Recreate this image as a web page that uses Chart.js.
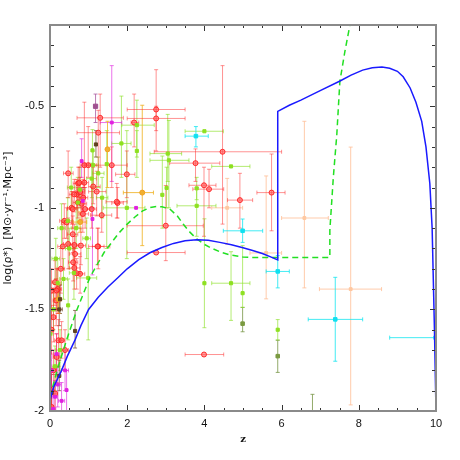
<!DOCTYPE html>
<html>
<head>
<meta charset="utf-8">
<script src="https://cdn.jsdelivr.net/npm/chart.js@4.4.0/dist/chart.umd.min.js"></script>
<style>
  html, body { margin: 0; padding: 0; background: #fff; }
  #wrap { width: 460px; height: 460px; }
</style>
</head>
<body>
<div id="wrap"><canvas id="chSfr" width="460" height="460"></canvas></div>
<script>
// each point: [z, logRho, zLo, zHi, yLo, yHi]  (null = no error bar)
const redPts = [
  [2.75, -0.516, 2.0, 3.5, -0.72, -0.32], [2.75, -0.56, 2.0, 3.5, -0.62, -0.5],
  [1.30, -0.557, 0.7, 1.9, -0.8, -0.44], [1.25, -0.63, 0.7, 1.8, -0.83, -0.52],
  [2.18, -0.58, 2.1, 2.3, -0.70, -0.44], [1.6, -0.79, 0.9, 2.0, -0.9, -0.7],
  [0.99, -0.79, 0.85, 1.2, -0.85, -0.6], [0.47, -0.83, 0.35, 0.6, -0.95, -0.72],
  [1.99, -0.835, 1.7, 2.2, -0.95, -0.72], [3.77, -0.78, 3.1, 4.4, -0.87, -0.71],
  [4.47, -0.724, 2.7, 6.0, -1.08, -0.3], [3.99, -0.889, 3.6, 4.3, -1.14, -0.8],
  [4.12, -0.908, 3.7, 4.5, -1.0, -0.81], [1.75, -0.976, 1.6, 1.9, -1.05, -0.9],
  [3.0, -1.088, 2.0, 3.97, -1.26, -0.89], [2.75, -1.22, 2.0, 3.5, null, null],
  [3.99, -1.722, 3.5, 4.5, null, null], [4.92, -0.962, 4.6, 5.25, -1.1, -0.83],
  [5.74, -0.925, 5.36, 6.09, -1.113, -0.735],
  [0.73, -0.88, 0.6, 0.9, -0.95, -0.8], [0.82, -0.98, 0.7, 0.95, -1.06, -0.9],
  [0.85, -1.03, 0.75, 1.0, -1.12, -0.95], [0.69, -0.934, 0.55, 0.85, -1.0, -0.86],
  [1.21, -0.92, 1.0, 1.45, -1.04, -0.82], [0.89, -0.79, 0.78, 1.0, -0.9, -0.48],
  [0.56, -1.0, 0.45, 0.7, -1.08, -0.92], [0.37, -1.064, 0.25, 0.5, -1.15, -0.98],
  [1.73, -0.97, 1.45, 2.0, -1.05, -0.88], [1.25, -1.19, 1.1, 1.4, -1.3, -1.1],
  [1.34, -1.036, 1.05, 1.6, -1.12, -0.95], [1.12, -0.895, 1.0, 1.3, -0.98, -0.8],
  [1.08, -1.006, 0.95, 1.2, -1.1, -0.9], [0.59, -1.006, 0.45, 0.7, -1.1, -0.92],
  [0.72, -0.974, 0.6, 0.85, -1.05, -0.9], [0.91, -1.006, 0.8, 1.05, -1.1, -0.9],
  [0.43, -1.072, 0.3, 0.55, -1.15, -1.0], [0.47, -1.178, 0.35, 0.6, -1.3, -1.05],
  [0.63, -1.183, 0.5, 0.75, -1.28, -1.08], [0.80, -1.186, 0.7, 0.92, -1.28, -1.1],
  [0.65, -1.227, 0.5, 0.8, -1.32, -1.14], [0.60, -1.268, 0.48, 0.72, -1.36, -1.18],
  [0.63, -1.296, 0.5, 0.78, -1.4, -1.2], [0.78, -1.325, 0.68, 0.9, -1.42, -1.24],
  [0.13, -1.366, 0.05, 0.22, -1.48, -1.26], [0.2, -1.4, 0.1, 0.3, -1.52, -1.3],
  [0.04, -1.407, 0, 0.1, -1.55, -1.3], [0.76, -0.876, 0.65, 0.88, -0.96, -0.8],
  [0.89, -0.876, 0.8, 1.0, -0.95, -0.78], [0.78, -0.922, 0.66, 0.9, -1.0, -0.85],
  [0.86, -0.95, 0.75, 0.98, -1.04, -0.86], [0.63, -0.934, 0.5, 0.75, -1.02, -0.86],
  [0.59, -1.13, 0.45, 0.72, -1.22, -1.04], [1.23, -1.19, 1.0, 1.55, -1.28, -1.1],
  [0.28, -1.3, 0.18, 0.38, -1.42, -1.2], [0.16, -1.456, 0.08, 0.25, -1.58, -1.35],
  [0.09, -1.538, 0.02, 0.16, -1.66, -1.42], [0.22, -1.652, 0.12, 0.32, -1.78, -1.55],
  [0.17, -1.734, 0.08, 0.26, -1.86, -1.62], [0.09, -1.8, 0.02, 0.16, -1.92, -1.7],
  [0.04, -1.897, 0, 0.1, -2.0, -1.8], [0.04, -1.98, 0, 0.08, -2.05, -1.9],
  [0.04, -1.6, 0, 0.1, -1.72, -1.48], [0.13, -1.914, 0.05, 0.2, -2.02, -1.82],
  [0.3, -1.652, 0.22, 0.38, -1.74, -1.56], [0.39, -1.70, 0.3, 0.48, -1.8, -1.6],
  [0.17, -1.407, 0.08, 0.25, -1.5, -1.3], [0.69, -1.322, 0.6, 0.8, -1.4, -1.25],
  [0.33, -1.19, 0.2, 0.45, -1.3, -1.08]
];
const greenPts = [
  [2.25, -0.593, 1.86, 2.7, -0.75, -0.47], [1.85, -0.683, 1.6, 2.1, -0.85, -0.45],
  [2.25, -0.72, null, null, -0.85, -0.62], [3.05, -0.733, 2.59, 3.41, -0.87, -0.54],
  [4.0, -0.623, 3.5, 4.49, null, null], [2.91, -0.936, null, null, -1.1, -0.745],
  [1.99, -1.0, 1.38, 2.46, -1.25, -0.62], [3.8, -0.99, 3.29, 4.3, -1.14, -0.9],
  [3.08, -0.766, 2.59, 3.6, -1.0, -0.57], [3.02, -0.902, null, null, -1.0, -0.8],
  [4.69, -0.796, 4.19, 5.18, null, null], [3.8, -0.904, null, null, -0.96, -0.85],
  [4.0, -1.371, null, null, -1.59, -1.054], [4.69, -1.371, 4.19, 5.18, -1.554, -1.216],
  [4.99, -1.42, null, null, -1.49, -1.186], [5.9, -1.6, null, null, -1.65, -1.55],
  [0.99, -1.345, 0.69, 1.21, -1.65, -1.2],
  [1.1, -0.717, null, null, -1.0, -0.615], [1.08, -0.856, 0.95, 1.2, -0.95, -0.78],
  [0.46, -1.064, 0.35, 0.58, -1.2, -0.95], [0.72, -0.974, null, null, -1.1, -0.85],
  [0.62, -1.32, 0.5, 0.75, -1.45, -1.2], [0.2, -1.37, 0.1, 0.3, -1.5, -1.25],
  [0.78, -0.91, 0.7, 0.9, -1.0, -0.8], [1.12, -0.79, 1.0, 1.25, -0.9, -0.72],
  [1.47, -0.785, null, null, -1.2, -0.62], [1.25, -0.83, 1.1, 1.4, -0.9, -0.75],
  [0.47, -1.48, null, null, -1.65, -1.35], [0.26, -1.70, 0.15, 0.35, -1.8, -1.6],
  [0.13, -1.78, 0.05, 0.2, -1.9, -1.68], [0.0, -1.62, 0, 0.08, -1.75, -1.5],
  [0.09, -1.5, 0.02, 0.16, -1.6, -1.4], [0.5, -1.2, 0.4, 0.6, -1.3, -1.1],
  [0.3, -1.1, 0.2, 0.4, -1.2, -0.98], [0.55, -0.9, 0.45, 0.65, -1.0, -0.8],
  [0.15, -1.25, 0.05, 0.25, -1.35, -1.15], [0.35, -1.35, 0.25, 0.45, -1.45, -1.25],
  [0.68, -1.1, 0.55, 0.8, -1.2, -1.0], [1.35, -0.95, 1.2, 1.5, -1.05, -0.85],
  [0.95, -1.15, 0.85, 1.05, -1.25, -1.05]
];
const olivePts = [
  [4.99, -1.57, null, null, -1.61, -1.49], [5.9, -1.73, null, null, -1.81, -1.652],
  [6.8, -2.05, null, null, -2.1, -1.918]
];
const brownPts = [
  [1.19, -0.688, null, null, -0.75, -0.62], [0.24, -1.5, 0.15, 0.32, -1.58, -1.38],
  [0.65, -1.606, null, null, -1.69, -1.505], [0.24, -1.827, null, null, -1.9, -1.75],
  [0.04, -1.91, null, null, -2.0, -1.82], [0.26, -1.45, null, null, -1.52, -1.38]
];
const purplePts = [[1.18, -0.5, null, null, -0.58, -0.44]];
const magentaPts = [
  [1.6, -0.58, 1.3, 1.86, -0.87, -0.30], [1.1, -1.055, null, null, -1.33, -1.0],
  [2.23, -1.0, null, null, null, null], [0.85, -0.966, null, null, -1.02, -0.9],
  [0.82, -0.77, null, null, -0.85, -0.66], [0.39, -1.8, 0.3, 0.48, -1.9, -1.7],
  [0.2, -1.87, 0.12, 0.28, -1.98, -1.78], [0.13, -1.93, 0.05, 0.2, -2.05, -1.85],
  [0.3, -1.95, 0.22, 0.38, -2.05, -1.86], [0.04, -1.8, 0, 0.1, -1.9, -1.7],
  [0.43, -1.897, null, null, -2.0, -1.8], [0.17, -1.72, 0.1, 0.24, -1.82, -1.62],
  [0.08, -1.99, 0, 0.15, -2.08, -1.9]
];
const goldPts = [
  [2.39, -0.925, 1.9, 2.68, -1.186, -0.495], [1.49, -0.712, null, null, -0.9, -0.574],
  [0.78, -1.07, 0.6, 0.95, -1.12, -1.02], [0.22, -1.45, 0.12, 0.3, -1.52, -1.38]
];
const peachPts = [
  [6.59, -1.05, 6.0, 7.21, -1.394, -0.574], [7.79, -1.40, 6.98, 8.59, -1.97, -0.701],
  [4.59, -1.0, 4.19, 4.99, -1.18, -0.855], [5.6, -1.222, 5.18, 6.0, -1.448, -0.843]
];
const cyanPts = [
  [3.78, -0.647, 3.5, 4.1, -0.70, -0.60], [4.99, -1.113, 4.49, 5.51, -1.17, -1.055],
  [5.9, -1.313, 5.6, 6.2, -1.394, -1.235], [7.39, -1.549, 6.69, 8.1, -1.755, -1.342],
  [9.99, -1.639, 8.8, 10, null, null]
];

// model curves (solid blue, dashed green)
const blueZ = [0, 0.05, 0.1, 0.2, 0.3, 0.45, 0.65, 0.8, 1.0, 1.25, 1.5, 1.75, 2.0, 2.3, 2.6, 2.9,
  3.2, 3.5, 3.8, 4.1, 4.4, 4.7, 5.0, 5.25, 5.5, 5.7, 5.9,
  5.9, 6.2, 6.5, 7.0, 7.5, 7.8, 8.1, 8.35, 8.6, 8.8, 9.0, 9.15, 9.33, 9.48, 9.63, 9.74, 9.84, 9.9, 9.96, 10];
const blueY = [-1.95, -1.91, -1.88, -1.84, -1.80, -1.73, -1.65, -1.58, -1.5, -1.44, -1.39, -1.345, -1.30, -1.255, -1.22, -1.195,
  -1.175, -1.162, -1.157, -1.16, -1.17, -1.182, -1.196, -1.21, -1.225, -1.24, -1.256,
  -0.525, -0.495, -0.47, -0.423, -0.377, -0.347, -0.322, -0.31, -0.307, -0.313, -0.328, -0.355, -0.41, -0.48, -0.574, -0.7, -0.88, -1.1, -1.6, -2];
const greenZ = [0, 0.1, 0.2, 0.43, 0.7, 1.04, 1.4, 1.77, 2.0, 2.2, 2.4, 2.6, 2.75, 2.9, 3.1, 3.3, 3.45, 3.6, 3.8,
  4.0, 4.2, 4.45, 4.66, 5.0, 5.2, 7.25, 7.25, 7.34, 7.43, 7.51, 7.64, 7.77];
const greenY = [-1.93, -1.86, -1.79, -1.65, -1.5, -1.34, -1.22, -1.127, -1.08, -1.045, -1.015, -0.998, -0.993, -0.995, -1.005, -1.04, -1.08, -1.115, -1.153,
  -1.18, -1.2, -1.22, -1.232, -1.242, -1.244, -1.244, -1.11, -0.85, -0.64, -0.377, -0.23, -0.1];

const xTicks = [0, 2, 4, 6, 8, 10];
const yTicks = [-2, -1.5, -1, -0.5];

function isMult(v, m) { return Math.abs(v / m - Math.round(v / m)) < 1e-6; }
function fmt(v) { return String(Number(v.toFixed(1))); }

function pointSet(pts, style, radius, fill, border, errColor) {
  return {
    type: 'scatter',
    data: pts.map(p => ({ x: p[0], y: p[1] })),
    errors: pts, errColor: errColor,
    pointStyle: style, pointRadius: radius, pointBorderWidth: 1,
    backgroundColor: fill, borderColor: border
  };
}
function curveSet(zs, ys, color, dash) {
  return {
    type: 'line',
    data: zs.map((z, i) => ({ x: z, y: ys[i] })),
    borderColor: color, borderWidth: 1.5, borderDash: dash,
    pointRadius: 0, fill: false, tension: 0
  };
}

/* error bars drawn through the chart's own scales */
const errorBars = {
  id: 'errorBars',
  beforeDatasetsDraw(chart) {
    const { ctx, chartArea: a, scales: { x, y } } = chart;
    ctx.save();
    ctx.beginPath();
    ctx.rect(a.left, a.top, a.width, a.height);
    ctx.clip();
    ctx.lineWidth = 1;
    chart.data.datasets.forEach(ds => {
      if (!ds.errors) return;
      ctx.strokeStyle = ds.errColor;
      ds.errors.forEach(p => {
        const px = x.getPixelForValue(p[0]), py = y.getPixelForValue(p[1]);
        ctx.beginPath();
        if (p[2] != null) {
          const l = x.getPixelForValue(p[2]), r = x.getPixelForValue(p[3]);
          ctx.moveTo(l, py); ctx.lineTo(r, py);
          ctx.moveTo(l, py - 2); ctx.lineTo(l, py + 2);
          ctx.moveTo(r, py - 2); ctx.lineTo(r, py + 2);
        }
        if (p[4] != null) {
          const b = y.getPixelForValue(p[4]), t = y.getPixelForValue(p[5]);
          ctx.moveTo(px, b); ctx.lineTo(px, t);
          ctx.moveTo(px - 2, b); ctx.lineTo(px + 2, b);
          ctx.moveTo(px - 2, t); ctx.lineTo(px + 2, t);
        }
        ctx.stroke();
      });
    });
    ctx.restore();
  }
};

/* frame and inward ticks on all four sides */
const frameTicks = {
  id: 'frameTicks',
  afterDraw(chart) {
    const { ctx, chartArea: a, scales: { x, y } } = chart;
    ctx.save();
    ctx.strokeStyle = '#333';
    ctx.lineWidth = 1;
    ctx.beginPath();
    x.ticks.forEach(t => {
      const px = Math.round(x.getPixelForValue(t.value)) + 0.5;
      const len = isMult(t.value, 2) ? 6 : 3;
      ctx.moveTo(px, a.bottom); ctx.lineTo(px, a.bottom - len);
      ctx.moveTo(px, a.top); ctx.lineTo(px, a.top + len);
    });
    y.ticks.forEach(t => {
      const py = Math.round(y.getPixelForValue(t.value)) + 0.5;
      const len = isMult(t.value, 0.5) ? 6 : 4;
      ctx.moveTo(a.left, py); ctx.lineTo(a.left + len, py);
      ctx.moveTo(a.right, py); ctx.lineTo(a.right - len, py);
    });
    ctx.stroke();
    ctx.strokeStyle = '#8a8a8a';
    ctx.lineWidth = 2;
    ctx.strokeRect(a.left, a.top, a.width, a.height);
    ctx.restore();
  }
};

const tickFont = { family: 'Liberation Sans', size: 11 };

new Chart(document.getElementById('chSfr'), {
  data: {
    datasets: [
      curveSet(blueZ, blueY, '#1a1aff', []),
      curveSet(greenZ, greenY, '#22e022', [6, 4]),
      pointSet(peachPts, 'rect', 2, '#ffc8a0', '#ffc8a0', 'rgba(255,190,150,0.8)'),
      pointSet(olivePts, 'rect', 2.5, '#7a9a40', '#7a9a40', 'rgba(120,150,70,0.8)'),
      pointSet(greenPts, 'rect', 2.2, '#8ee020', '#8ee020', 'rgba(140,225,40,0.65)'),
      pointSet(brownPts, 'rect', 2.2, '#604020', '#604020', 'rgba(110,70,40,0.7)'),
      pointSet(purplePts, 'rect', 3, '#a05090', '#a05090', 'rgba(170,90,160,0.8)'),
      pointSet(magentaPts, 'rect', 2, '#e020e0', '#e020e0', 'rgba(225,40,225,0.65)'),
      pointSet(goldPts, 'circle', 2.5, '#f0b030', '#f0a020', 'rgba(240,180,40,0.85)'),
      pointSet(redPts, 'circle', 2.5, 'rgba(255,90,90,0.6)', 'rgba(255,30,30,0.9)', 'rgba(255,40,40,0.5)'),
      pointSet(cyanPts, 'rect', 2.5, '#10e0f0', '#10e0f0', 'rgba(20,230,240,0.8)')
    ]
  },
  options: {
    responsive: false,
    animation: false,
    devicePixelRatio: 1,
    layout: { padding: { top: 25, right: 24, bottom: 15, left: 0 } },
    plugins: { legend: { display: false }, tooltip: { enabled: false } },
    scales: {
      x: {
        type: 'linear', min: 0, max: 10,
        afterFit(s) { s.height = 34; },
        grid: { display: false, drawTicks: false }, border: { display: false },
        ticks: {
          stepSize: 0.5, padding: 6, autoSkip: false, maxRotation: 0, color: '#111', font: tickFont,
          callback: v => xTicks.some(t => Math.abs(t - v) < 1e-6) ? fmt(v) : ''
        },
        title: { display: true, text: 'z', color: '#111', font: { family: 'DejaVu Serif', size: 10, weight: 'bold' }, padding: { top: 0, bottom: 0 } }
      },
      y: {
        type: 'linear', min: -2, max: -0.1,
        afterFit(s) { s.width = 50; },
        grid: { display: false, drawTicks: false }, border: { display: false },
        ticks: {
          stepSize: 0.1, padding: 6, autoSkip: false, color: '#111', font: tickFont,
          callback: v => yTicks.some(t => Math.abs(t - v) < 1e-6) ? fmt(v) : ''
        },
        title: { display: true, text: 'log(ρ*)  [M⊙·yr⁻¹·Mpc⁻³]', color: '#111', font: { family: 'DejaVu Sans', size: 11 }, padding: { top: 2, bottom: 0 } }
      }
    }
  },
  plugins: [errorBars, frameTicks]
});
</script>
</body>
</html>
